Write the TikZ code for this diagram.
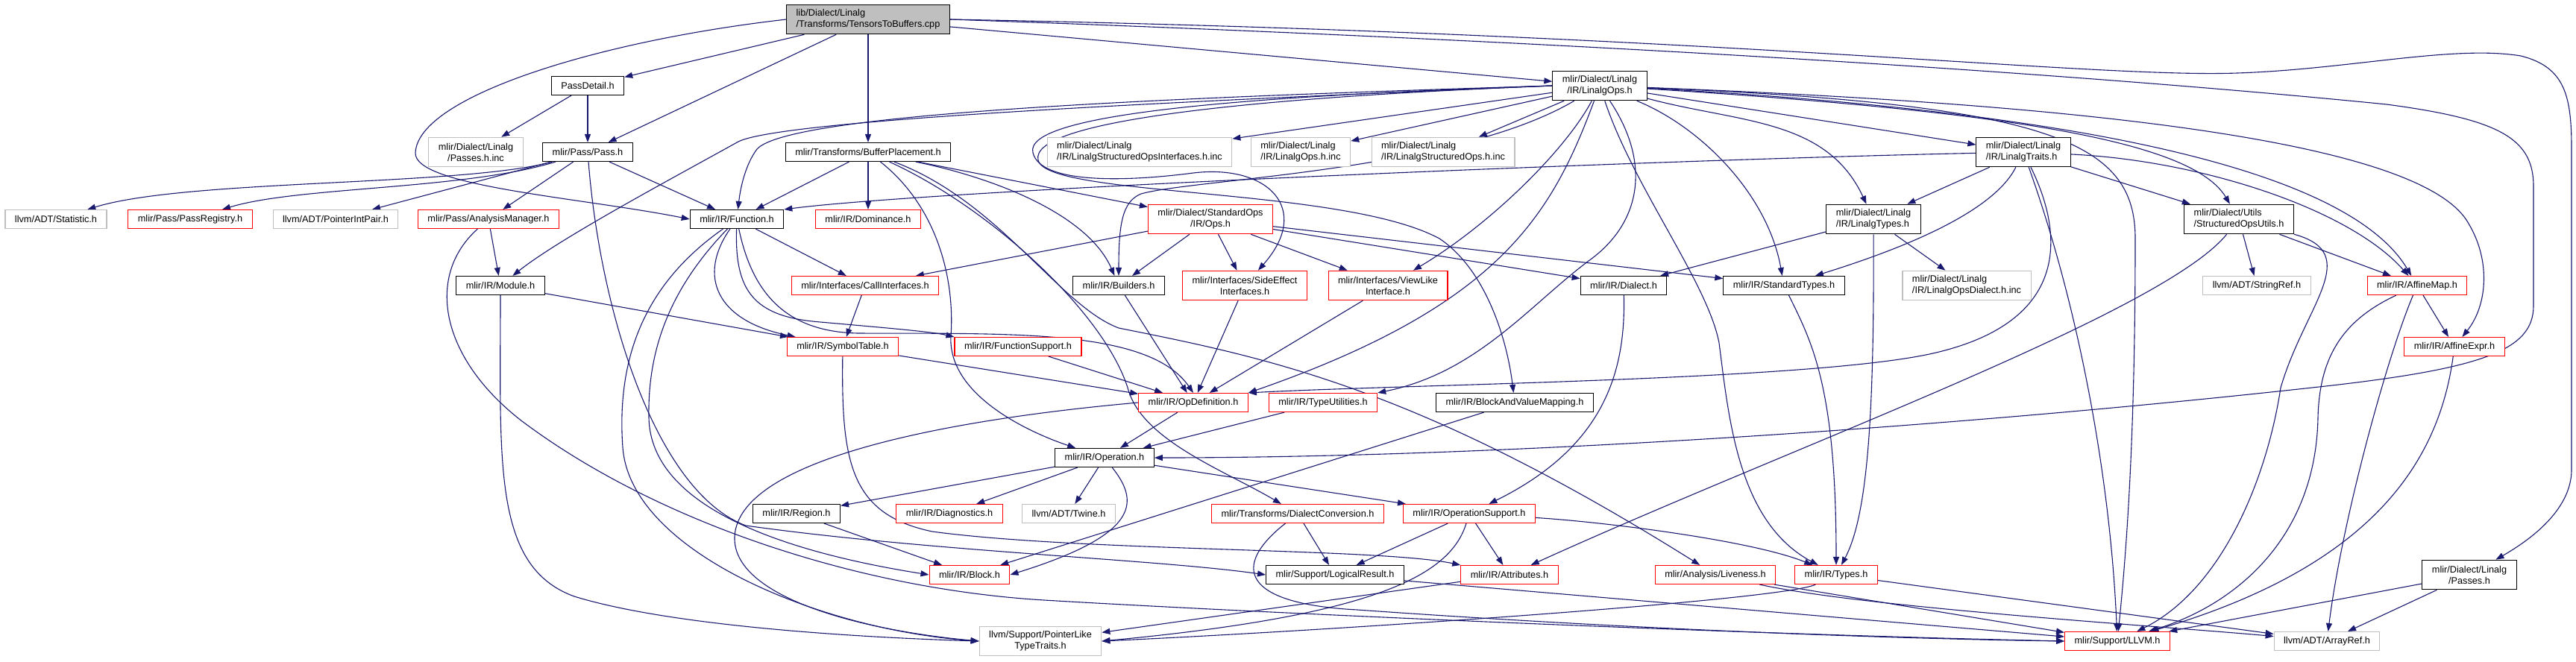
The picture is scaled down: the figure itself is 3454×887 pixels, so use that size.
\documentclass[tikz,border=0pt]{standalone}
\usepackage{fontspec}
\setmainfont{Liberation Sans}
\usetikzlibrary{arrows.meta,backgrounds}
\definecolor{depblue}{RGB}{25,25,112}
\definecolor{incred}{RGB}{255,0,0}
\definecolor{incgray}{RGB}{191,191,191}

\begin{document}
\begin{tikzpicture}[x=1pt, y=-1pt,
  every node/.style={font=\fontsize{12.7}{15}\selectfont},
  hdr/.style={draw, fill=white, line width=1.1pt, inner xsep=13pt, inner ysep=2pt, minimum height=25pt},
  hdrred/.style={hdr, draw=incred},
  hdrgray/.style={hdr, draw=incgray},
  hdrroot/.style={hdr, fill=incgray},
  two/.style={align=center, minimum height=39.5pt},
  twol/.style={align=left, minimum height=39.5pt},
  dep/.style={draw=depblue, line width=1.1pt, -{Triangle[length=11pt,width=8pt]}}]
\useasboundingbox (0,0) rectangle (3454,887);
\node[hdrroot, twol] (root) at (1164,26) {lib/Dialect/Linalg\\/Transforms/TensorsToBuffers.cpp};
\node[hdr] (pdet) at (788,115) {PassDetail.h};
\node[hdr, two] (lops) at (2145,115) {mlir/Dialect/Linalg\\/IR/LinalgOps.h};
\node[hdrgray, two] (pinc) at (638,204) {mlir/Dialect/Linalg\\/Passes.h.inc};
\node[hdr] (pass) at (788,204) {mlir/Pass/Pass.h};
\node[hdr] (bufp) at (1164,204) {mlir/Transforms/BufferPlacement.h};
\node[hdrgray, twol] (sifinc) at (1528,204) {mlir/Dialect/Linalg\\/IR/LinalgStructuredOpsInterfaces.h.inc};
\node[hdrgray, twol] (opsinc) at (1744,204) {mlir/Dialect/Linalg\\/IR/LinalgOps.h.inc};
\node[hdrgray, twol] (sopsinc) at (1935,204) {mlir/Dialect/Linalg\\/IR/LinalgStructuredOps.h.inc};
\node[hdr, twol] (ltraits) at (2713,204) {mlir/Dialect/Linalg\\/IR/LinalgTraits.h};
\node[hdrgray] (stat) at (75,294) {llvm/ADT/Statistic.h};
\node[hdrred] (preg) at (255,294) {mlir/Pass/PassRegistry.h};
\node[hdrgray] (pip) at (450,294) {llvm/ADT/PointerIntPair.h};
\node[hdrred] (amgr) at (655,294) {mlir/Pass/AnalysisManager.h};
\node[hdr] (func) at (988,294) {mlir/IR/Function.h};
\node[hdrred] (dom) at (1164,294) {mlir/IR/Dominance.h};
\node[hdrred, two] (stdops) at (1623,294) {mlir/Dialect/StandardOps\\/IR/Ops.h};
\node[hdr, twol] (ltypes) at (2512,294) {mlir/Dialect/Linalg\\/IR/LinalgTypes.h};
\node[hdr, twol] (sutils) at (3002,294) {mlir/Dialect/Utils\\/StructuredOpsUtils.h};
\node[hdr] (module) at (671,383) {mlir/IR/Module.h};
\node[hdrred] (callif) at (1160,383) {mlir/Interfaces/CallInterfaces.h};
\node[hdr] (build) at (1500,383) {mlir/IR/Builders.h};
\node[hdrred, two] (seff) at (1669,383) {mlir/Interfaces/SideEffect\\Interfaces.h};
\node[hdrred, two] (vlike) at (1861,383) {mlir/Interfaces/ViewLike\\Interface.h};
\node[hdr] (dial) at (2177,383) {mlir/IR/Dialect.h};
\node[hdr] (stypes) at (2392,383) {mlir/IR/StandardTypes.h};
\node[hdrgray, twol] (dinc) at (2637,383) {mlir/Dialect/Linalg\\/IR/LinalgOpsDialect.h.inc};
\node[hdrgray] (sref) at (3026,383) {llvm/ADT/StringRef.h};
\node[hdrred] (amap) at (3241,383) {mlir/IR/AffineMap.h};
\node[hdrred] (symt) at (1130,465) {mlir/IR/SymbolTable.h};
\node[hdrred] (fsup) at (1365,465) {mlir/IR/FunctionSupport.h};
\node[hdrred] (aexpr) at (3291,465) {mlir/IR/AffineExpr.h};
\node[hdrred] (opdef) at (1600,540) {mlir/IR/OpDefinition.h};
\node[hdrred] (tutil) at (1774,540) {mlir/IR/TypeUtilities.h};
\node[hdr] (bvm) at (2031,540) {mlir/IR/BlockAndValueMapping.h};
\node[hdr] (oper) at (1481,614) {mlir/IR/Operation.h};
\node[hdr] (region) at (1068,689) {mlir/IR/Region.h};
\node[hdrred] (diag) at (1273,689) {mlir/IR/Diagnostics.h};
\node[hdrgray] (twine) at (1433,689) {llvm/ADT/Twine.h};
\node[hdrred] (dconv) at (1740,689) {mlir/Transforms/DialectConversion.h};
\node[hdrred] (osup) at (1970,689) {mlir/IR/OperationSupport.h};
\node[hdrred] (block) at (1300,771) {mlir/IR/Block.h};
\node[hdr] (lres) at (1790,771) {mlir/Support/LogicalResult.h};
\node[hdrred] (attr) at (2024,771) {mlir/IR/Attributes.h};
\node[hdrred] (live) at (2300,771) {mlir/Analysis/Liveness.h};
\node[hdrred] (types) at (2462,771) {mlir/IR/Types.h};
\node[hdr, two] (lpass) at (3311,771) {mlir/Dialect/Linalg\\/Passes.h};
\node[hdrgray, two] (plike) at (1395,860) {llvm/Support/PointerLike\\TypeTraits.h};
\node[hdrred] (llvm) at (2839,860) {mlir/Support/LLVM.h};
\node[hdrgray] (aref) at (3120,860) {llvm/ADT/ArrayRef.h};
\begin{scope}[on background layer]
\draw[dep] (root) -- (pdet); \draw[dep] (root) -- (pass);
\draw[dep] (root) -- (bufp); \draw[dep] (root) -- (lops);
\draw[dep] (root.west) .. controls (800,55) and (560,130) .. (557,205) .. controls (555,250) and (780,265) .. (func.west);
\draw[dep] (root.east) .. controls (2300,45) and (2800,105) .. (3000,98) .. controls (3150,93) and (3290,60) .. (3380,75) .. controls (3440,90) and (3448,130) .. (3448,200) -- (3448,630) .. controls (3448,680) and (3400,720) .. (lpass);
\draw[dep] (root.east) .. controls (2300,62) and (2900,110) .. (3200,140) .. controls (3350,160) and (3397,185) .. (3397,250) -- (3397,410) .. controls (3397,470) and (3330,495) .. (3100,520) .. controls (2600,575) and (2000,614) .. (oper.east);
\draw[dep] (pdet) -- (pass); \draw[dep] (pdet) -- (pinc);
\draw[dep] (lops) -- (sifinc); \draw[dep] (lops) -- (opsinc);
\draw[dep] (lops) -- (sopsinc); \draw[dep] (lops) -- (ltraits);
\draw[dep] (lops) .. controls (2100,200) and (2000,300) .. (vlike);
\draw[dep] (lops) to[out=-15,in=115] (ltypes);
\draw[dep] (lops) .. controls (2700,150) and (2940,190) .. (sutils);
\draw[dep] (lops) .. controls (2800,150) and (3150,230) .. (amap);
\draw[dep] (lops) .. controls (2800,140) and (3250,190) .. (3310,300) .. controls (3340,350) and (3335,410) .. (aexpr);
\draw[dep] (lops) .. controls (2750,140) and (2863,190) .. (2863,320) .. controls (2863,600) and (2850,750) .. (llvm);
\draw[dep] (lops) .. controls (2080,290) and (2010,410) .. (opdef.north east);
\draw[dep] (lops) .. controls (2215,220) and (2200,300) .. (2130,350) .. controls (2050,410) and (1980,500) .. (tutil.north east);
\draw[dep] (lops.west) .. controls (1700,130) and (1378,160) .. (1392,215) .. controls (1405,265) and (1800,250) .. (1930,320) .. controls (1990,360) and (2020,450) .. (bvm);
\draw[dep] (lops) .. controls (1950,230) and (1600,240) .. (1530,260) .. controls (1505,270) and (1500,300) .. (build);
\draw[dep] (lops.west) .. controls (1700,128) and (1370,150) .. (1385,205) .. controls (1395,245) and (1500,245) .. (1600,232) .. controls (1700,220) and (1760,280) .. (seff);
\draw[dep] (lops.west) .. controls (1600,130) and (1060,150) .. (1015,200) .. controls (1000,220) and (993,250) .. (func);
\draw[dep] (lops.west) .. controls (1600,135) and (1050,160) .. (990,190) .. controls (900,240) and (750,320) .. (module);
\draw[dep] (lops) .. controls (2280,170) and (2370,260) .. (stypes);
\draw[dep] (lops) .. controls (2190,250) and (2290,380) .. (2305,460) .. controls (2318,560) and (2330,700) .. (types);
\draw[dep] (ltraits) .. controls (2200,215) and (1250,255) .. (func.north east);
\draw[dep] (ltraits) -- (ltypes); \draw[dep] (ltraits) -- (sutils);
\draw[dep] (ltraits) .. controls (2670,290) and (2530,340) .. (stypes);
\draw[dep] (ltraits) .. controls (2950,215) and (3150,280) .. (amap);
\draw[dep] (ltraits) .. controls (2790,420) and (2830,650) .. (llvm);
\draw[dep] (ltraits) .. controls (2770,320) and (2770,430) .. (2600,472) .. controls (2450,510) and (1900,515) .. (opdef.north east);
\draw[dep] (pass) .. controls (620,250) and (250,240) .. (stat);
\draw[dep] (pass) .. controls (620,255) and (400,250) .. (preg);
\draw[dep] (pass) -- (pip); \draw[dep] (pass) -- (amgr);
\draw[dep] (pass) -- (func);
\draw[dep] (pass) .. controls (805,420) and (880,660) .. (1000,705) .. controls (1250,740) and (1550,750) .. (lres.west);
\draw[dep] (bufp) -- (dom); \draw[dep] (bufp) -- (func);
\draw[dep] (bufp) -- (stdops);
\draw[dep] (bufp) .. controls (1340,240) and (1460,290) .. (build);
\draw[dep] (bufp) .. controls (1260,280) and (1280,380) .. (1275,450) .. controls (1270,530) and (1380,580) .. (oper);
\draw[dep] (bufp) .. controls (1330,280) and (1480,420) .. (1512,520) .. controls (1530,590) and (1640,630) .. (dconv);
\draw[dep] (bufp) .. controls (1340,270) and (1420,410) .. (1500,440) .. controls (1700,480) and (1900,520) .. (live);
\draw[dep] (amgr) -- (module);
\draw[dep] (amgr) .. controls (570,370) and (590,480) .. (700,565) .. controls (880,700) and (1150,790) .. (1400,805) .. controls (1650,820) and (2300,850) .. (llvm.west);
\draw[dep] (func) -- (callif);
\draw[dep] (func) .. controls (935,370) and (960,430) .. (symt);
\draw[dep] (func) .. controls (985,390) and (1010,425) .. (1100,432) .. controls (1190,440) and (1250,445) .. (fsup.north west);
\draw[dep] (func) .. controls (1010,400) and (1060,445) .. (1150,447) .. controls (1350,448) and (1540,440) .. (opdef.north);
\draw[dep] (func) .. controls (905,380) and (868,460) .. (870,560) .. controls (872,680) and (1050,740) .. (block.west);
\draw[dep] (func) .. controls (880,370) and (825,460) .. (835,600) .. controls (845,740) and (1100,845) .. (plike.west);
\draw[dep] (stdops) -- (callif); \draw[dep] (stdops) -- (build);
\draw[dep] (stdops) -- (seff); \draw[dep] (stdops) -- (vlike);
\draw[dep] (stdops) -- (dial); \draw[dep] (stdops) -- (stypes);
\draw[dep] (ltypes) -- (dial); \draw[dep] (ltypes) -- (dinc);
\draw[dep] (ltypes) .. controls (2513,550) and (2505,690) .. (types);
\draw[dep] (sutils) -- (sref); \draw[dep] (sutils) -- (amap);
\draw[dep] (sutils) .. controls (3170,340) and (3090,410) .. (3058,520) .. controls (3040,640) and (2980,790) .. (llvm);
\draw[dep] (sutils) .. controls (2900,420) and (2400,600) .. (attr);
\draw[dep] (module) -- (symt);
\draw[dep] (module) .. controls (671,620) and (660,760) .. (770,800) .. controls (900,840) and (1150,855) .. (plike.west);
\draw[dep] (callif) -- (symt);
\draw[dep] (build) -- (opdef); \draw[dep] (seff) -- (opdef);
\draw[dep] (vlike) -- (opdef);
\draw[dep] (dial) .. controls (2180,500) and (2150,600) .. (osup);
\draw[dep] (stypes) .. controls (2430,460) and (2462,520) .. (types);
\draw[dep] (amap) -- (aexpr);
\draw[dep] (amap) .. controls (3140,430) and (3110,480) .. (3108,560) .. controls (3105,720) and (3000,810) .. (llvm);
\draw[dep] (amap) .. controls (3200,480) and (3140,700) .. (aref);
\draw[dep] (aexpr) .. controls (3270,620) and (3180,760) .. (llvm);
\draw[dep] (symt) -- (opdef);
\draw[dep] (symt) .. controls (1128,620) and (1140,690) .. (1250,713) .. controls (1450,740) and (1850,735) .. (attr.north west);
\draw[dep] (fsup) -- (opdef);
\draw[dep] (opdef) -- (oper);
\draw[dep] (opdef.west) .. controls (1300,560) and (990,610) .. (985,720) .. controls (982,800) and (1150,845) .. (plike.west);
\draw[dep] (tutil) -- (oper); \draw[dep] (bvm) -- (block);
\draw[dep] (oper) -- (region); \draw[dep] (oper) -- (diag);
\draw[dep] (oper) -- (twine); \draw[dep] (oper) -- (osup);
\draw[dep] (oper) .. controls (1525,670) and (1535,715) .. (block.east);
\draw[dep] (region) -- (block);
\draw[dep] (dconv) -- (lres);
\draw[dep] (dconv) .. controls (1650,760) and (1665,810) .. (1820,818) .. controls (2200,845) and (2550,857) .. (llvm.west);
\draw[dep] (osup) -- (lres); \draw[dep] (osup) -- (attr);
\draw[dep] (osup) .. controls (2150,700) and (2350,725) .. (types);
\draw[dep] (osup) .. controls (1945,770) and (1850,825) .. (plike.east);
\draw[dep] (lres) -- (llvm); \draw[dep] (attr) -- (plike);
\draw[dep] (live) -- (llvm);
\draw[dep] (live) .. controls (2500,815) and (2900,840) .. (aref);
\draw[dep] (types) .. controls (2390,805) and (1800,845) .. (plike.east);
\draw[dep] (types) -- (aref);
\draw[dep] (lpass) -- (llvm); \draw[dep] (lpass) -- (aref);
\end{scope}
\end{tikzpicture}
\end{document}
